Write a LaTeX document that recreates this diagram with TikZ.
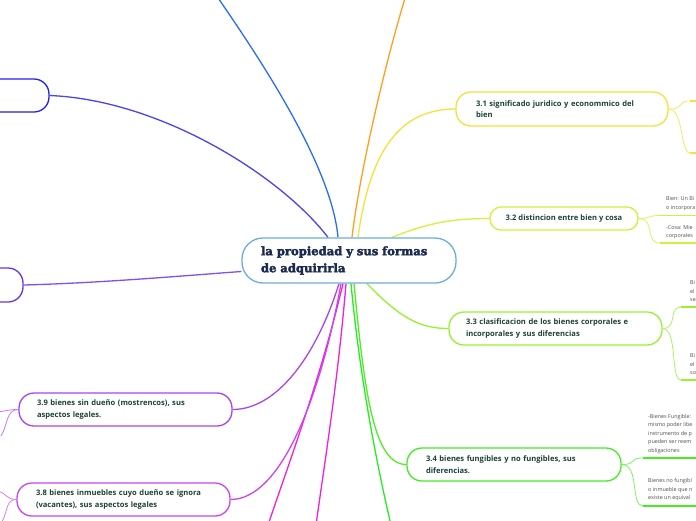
\documentclass[tikz,border=0pt]{standalone}
\usepackage{fontspec}
\setmainfont{Open Sans}
\newfontfamily\titlefont[FakeBold=2.8]{DejaVu Serif Bold}
\pgfdeclarelayer{bg}
\pgfsetlayers{bg,main}
\definecolor{txt}{HTML}{1C4234}
\definecolor{ttl}{HTML}{1B2A4E}
\definecolor{cblue}{HTML}{6AAEE0}
\definecolor{topblue}{HTML}{2A6DF5}
\definecolor{orng}{HTML}{FFA020}
\definecolor{nzero}{HTML}{2222EE}
\definecolor{lzero}{HTML}{4A44EE}
\definecolor{pviolet}{HTML}{6633EE}
\definecolor{yel}{HTML}{F2E33A}
\definecolor{ygr}{HTML}{D4F03A}
\definecolor{lgr}{HTML}{9AF030}
\definecolor{grn}{HTML}{44EE22}
\definecolor{bgrn}{HTML}{22EE22}
\definecolor{purp}{HTML}{AA44EE}
\definecolor{viol}{HTML}{CC44EE}
\definecolor{mag}{HTML}{EE22DD}
\definecolor{smalltxt}{HTML}{505050}
\tikzset{
  topic/.style={draw, line width=1.3pt, fill=white, text=txt, rounded corners=15pt,
    font=\bfseries\fontsize{7.6}{11.5}\selectfont, align=left, inner ysep=0pt},
  conn/.style={line width=1.3pt},
  forkline/.style={line width=0.8pt},
  uline/.style={line width=1.5pt},
  small/.style={font=\fontsize{5.4}{8.5}\selectfont, text=smalltxt, anchor=west, inner sep=0pt, align=left}
}
\begin{document}
\begin{tikzpicture}[x=1pt,y=-1pt]
\useasboundingbox (0,0) rectangle (696,520);
\clip (0,0) rectangle (696,520);

% central node
\node[draw=cblue, line width=1.3pt, fill=white, rounded corners=21pt, text=ttl,
  font=\titlefont\fontsize{11.6}{17}\selectfont, align=left,
  text width=176pt, inner xsep=19pt, minimum height=45pt] (c) at (349,260.5)
  {la propiedad y sus formas\\de adquirirla};

% main topics
\node[topic, draw=nzero, minimum width=219pt, minimum height=33pt] (n0) at (-60.5,95.5) {};
\node[topic, draw=pviolet, minimum width=218pt, minimum height=34pt] (n1) at (-86,285) {};
\node[topic, draw=yel, text width=172pt, inner xsep=20pt, minimum height=34pt] (n31) at (562,109)
  {3.1 significado juridico y econommico del\\bien};
\node[topic, draw=ygr, rounded corners=11pt, minimum width=148pt, minimum height=23pt, align=center] (n32) at (564,218.5)
  {3.2 distincion entre bien y cosa};
\node[topic, draw=lgr, text width=179pt, inner xsep=17pt, minimum height=33pt] (n33) at (555.5,328.5)
  {3.3 clasificacion de los bienes corporales e\\incorporales y sus diferencias};
\node[topic, draw=grn, text width=176pt, inner xsep=19pt, minimum height=33pt] (n34) at (514,464.5)
  {3.4 bienes fungibles y no fungibles, sus\\diferencias.};
\node[topic, draw=purp, text width=177pt, inner xsep=18pt, minimum height=33pt] (n39) at (125.5,409.5)
  {3.9 bienes sin dueño (mostrencos), sus\\aspectos legales.};
\node[topic, draw=viol, text width=175pt, inner xsep=19pt, minimum height=33pt] (n38) at (123.5,499.5)
  {3.8 bienes inmuebles cuyo dueño se ignora\\(vacantes), sus aspectos legales};

% free ends
\coordinate (topend) at (216,-5);
\coordinate (orend) at (406,-5);
\coordinate (gend) at (391,525);
\coordinate (m1end) at (316,525);
\coordinate (m2end) at (268,525);

% sub-items
\node[small] (s21) at (666,199) {Bien: Un Bi};
\node[small] (s22) at (666,208.5) {o incorpora};
\node[small] (s23) at (666,228) {-Cosa: Mie};
\node[small] (s24) at (666,236.5) {corporales};
\node[small] (s31) at (690,291.5) {Bi\\el\\se};
\node[small] (s32) at (690,364.5) {Bi\\el\\so};
\node[small] (s41) at (648,417) {-Bienes Fungible:};
\node[small] (s42) at (648,425.5) {mismo poder libe};
\node[small] (s43) at (648,434) {instrumento de p};
\node[small] (s44) at (648,442.5) {pueden ser reem};
\node[small] (s45) at (648,451) {obligaciones};
\node[small] (s46) at (648,481.5) {Bienes no fungibl};
\node[small] (s47) at (648,490) {o inmueble que n};
\node[small] (s48) at (648,498.5) {existe un equival};

\coordinate (u11) at (690,101);
\coordinate (u12) at (690,153);
\coordinate (u21) at (660,215.5);
\coordinate (u22) at (660,243);
\coordinate (u31) at (681,307);
\coordinate (u32) at (681,380);
\coordinate (u41) at (643,458);
\coordinate (u42) at (643,506);
\coordinate (r11) at (700,101);
\coordinate (r12) at (700,153);
\coordinate (r21) at (700,215.5);
\coordinate (r22) at (700,243);
\coordinate (r31) at (700,307);
\coordinate (r32) at (700,380);
\coordinate (r41) at (700,458);
\coordinate (r42) at (700,506);

\coordinate (l91) at (-2,412);
\coordinate (l92) at (1,436);
\coordinate (l81) at (-2,491);
\coordinate (l82) at (2,522);

\begin{pgfonlayer}{bg}
\fill[white] (0,0) rectangle (696,520);
% connectors from centre
\draw[conn, topblue] ([xshift=-11pt]c.north) .. controls (332,170) and (268,70) .. (topend);
\draw[conn, orng] ([xshift=3pt]c.north) .. controls (360,170) and (386,60) .. (orend);
\draw[conn, lzero] ([xshift=-21pt]c.north) .. controls (280,175) and (160,100) .. (n0.east);
\draw[conn, pviolet!85!white] (n1.east) .. controls (100,283) and (180,276) .. ([yshift=-11pt]c.west);
\draw[conn, yel] ([xshift=9pt]c.north) .. controls (370,150) and (400,109) .. (n31.west);
\draw[conn, ygr] ([xshift=43pt]c.north) .. controls (430,222) and (455,218.5) .. (n32.west);
\draw[conn, lgr] ([xshift=18pt]c.south) .. controls (400,318) and (420,328.5) .. (n33.west);
\draw[conn, grn!85!lgr] ([xshift=5pt]c.south) .. controls (365,400) and (375,464.5) .. (n34.west);
\draw[conn, bgrn] ([xshift=2pt]c.south) .. controls (360,380) and (378,470) .. (gend);
\draw[conn, mag] ([xshift=-3pt]c.south) .. controls (338,380) and (325,460) .. (m1end);
\draw[conn, mag] ([xshift=-6pt]c.south) .. controls (320,380) and (290,460) .. (m2end);
\draw[conn, viol] ([xshift=-8pt]c.south) .. controls (320,400) and (280,499.5) .. (n38.east);
\draw[conn, purp] ([xshift=-10pt]c.south) .. controls (315,360) and (275,409.5) .. (n39.east);

% right forks
\draw[forkline, yel!80!white] (n31.east) .. controls (686,109) and (676,101) .. (u11);
\draw[forkline, yel!80!white] (n31.east) .. controls (684,109) and (680,153) .. (u12);
\draw[uline, yel] (u11) -- (r11);
\draw[uline, yel] (u12) -- (r12);
\draw[forkline, ygr!80!white] (n32.east) .. controls (652,218.5) and (646,215.5) .. (u21);
\draw[forkline, ygr!80!white] (n32.east) .. controls (656,218.5) and (644,243) .. (u22);
\draw[uline, ygr] (u21) -- (r21);
\draw[uline, ygr] (u22) -- (r22);
\draw[forkline, lgr!80!white] (n33.east) .. controls (678,328.5) and (668,307) .. (u31);
\draw[forkline, lgr!80!white] (n33.east) .. controls (678,328.5) and (670,380) .. (u32);
\draw[uline, lgr] (u31) -- (r31);
\draw[uline, lgr] (u32) -- (r32);
\draw[forkline, grn!70!white] (n34.east) .. controls (638,464.5) and (628,458) .. (u41);
\draw[forkline, grn!70!white] (n34.east) .. controls (640,464.5) and (630,506) .. (u42);
\draw[uline, grn] (u41) -- (r41);
\draw[uline, grn] (u42) -- (r42);

% left forks
\draw[forkline, purp!70!white] (n39.west) .. controls (8,409.5) and (6,411) .. (l91);
\draw[forkline, purp!70!white] (n39.west) .. controls (6,409.5) and (8,425) .. (l92);
\draw[forkline, viol!70!white] (n38.west) .. controls (6,499.5) and (5,492) .. (l81);
\draw[forkline, viol!70!white] (n38.west) .. controls (6,499.5) and (8,510) .. (l82);
\end{pgfonlayer}
\end{tikzpicture}
\end{document}
